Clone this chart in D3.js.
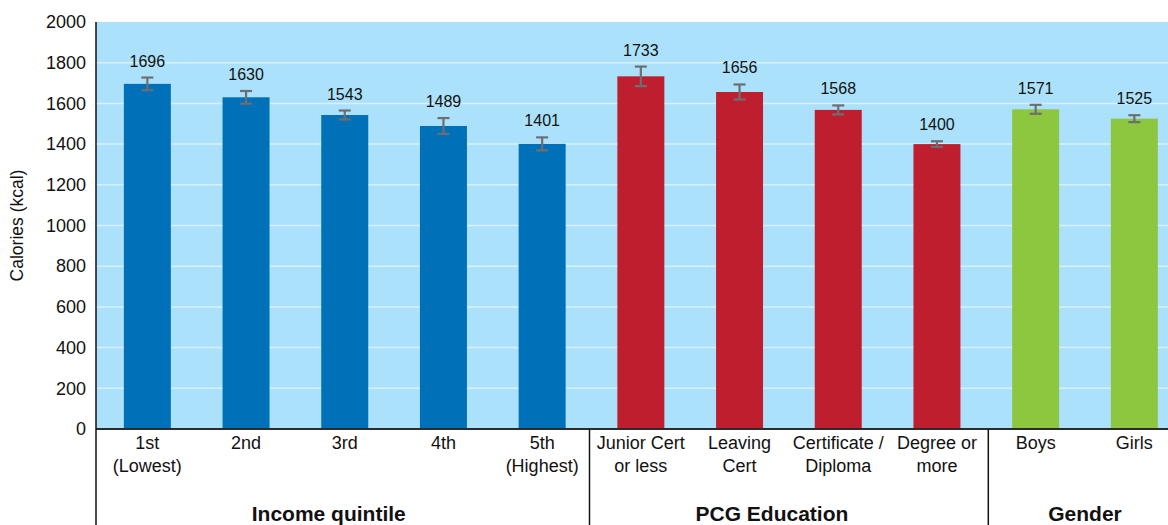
<!DOCTYPE html>
<html><head><meta charset="utf-8">
<script src="https://cdn.jsdelivr.net/npm/d3@7"></script>
<style>body{margin:0;background:#fff}svg{display:block}text{font-family:"Liberation Sans",Arial,sans-serif}</style>
</head><body>
<svg id="c" width="1168" height="525"></svg>
<script>
const categories = ["1st\n(Lowest)","2nd","3rd","4th","5th\n(Highest)","Junior Cert\nor less","Leaving\nCert","Certificate /\nDiploma","Degree or\nmore","Boys","Girls"];
const values = [1696,1630,1543,1489,1401,1733,1656,1568,1400,1571,1525];
const errors = [31,31,22,39,32,48,37,22,14,22,17];
const groupOf = ["Income quintile","Income quintile","Income quintile","Income quintile","Income quintile","PCG Education","PCG Education","PCG Education","PCG Education","Gender","Gender"];
const groups = ["Income quintile","PCG Education","Gender"];
const groupColors = ["#0070b9","#be1e2d","#8dc63f"];
const yTicks = [0,200,400,600,800,1000,1200,1400,1600,1800,2000];

(function(){
const svg = d3.select("#c");
const mLeft = 96, mTop = 22, mBottom = 429, mRight = 1168;
const x = d3.scaleBand().domain(d3.range(categories.length)).range([mLeft + 2, mLeft + 2 + 11*98.7]).paddingInner(0.524).paddingOuter(0.262);
const y = d3.scaleLinear().domain([0,2000]).range([mBottom, mTop]);
const color = d3.scaleOrdinal().domain(groups).range(groupColors);

svg.append("rect").attr("x",mLeft).attr("y",mTop).attr("width",mRight-mLeft).attr("height",mBottom-mTop).attr("fill","#abe1fa");
svg.append("g").selectAll("line").data(yTicks.filter(d=>d>0&&d<2000)).join("line")
  .attr("x1",mLeft).attr("x2",mRight).attr("y1",d=>y(d)).attr("y2",d=>y(d))
  .attr("stroke","#d6f0fc").attr("stroke-width",1.5);

// y axis
const yAxis = d3.axisLeft(y).tickValues(yTicks).tickFormat(d3.format("d")).tickSize(0).tickPadding(10);
const ga = svg.append("g").attr("transform",`translate(${mLeft},0)`).call(yAxis);
ga.select(".domain").remove();
ga.selectAll("text").attr("font-size",18).attr("fill","#111").attr("font-family","Liberation Sans, Arial, sans-serif");

svg.append("text").attr("transform",`translate(23,${(mTop+mBottom)/2}) rotate(-90)`)
  .attr("text-anchor","middle").attr("font-size",17.5).attr("fill","#111").text("Calories (kcal)");

// bars
svg.append("g").selectAll("rect").data(values).join("rect")
  .attr("x",(d,i)=>x(i)).attr("width",x.bandwidth())
  .attr("y",d=>y(d)).attr("height",d=>mBottom-y(d))
  .attr("fill",(d,i)=>color(groupOf[i]));

// error bars
const eb = svg.append("g").attr("stroke","#6d6e71").attr("stroke-width",2.2);
values.forEach((v,i)=>{
  const cx = x(i)+x.bandwidth()/2;
  eb.append("line").attr("x1",cx).attr("x2",cx).attr("y1",y(v+errors[i])).attr("y2",y(v-errors[i]));
  eb.append("line").attr("x1",cx-6).attr("x2",cx+6).attr("y1",y(v+errors[i])).attr("y2",y(v+errors[i]));
  eb.append("line").attr("x1",cx-6).attr("x2",cx+6).attr("y1",y(v-errors[i])).attr("y2",y(v-errors[i]));
});

// value labels
svg.append("g").selectAll("text").data(values).join("text")
  .attr("x",(d,i)=>x(i)+x.bandwidth()/2).attr("y",(d,i)=>y(d+errors[i])-11)
  .attr("text-anchor","middle").attr("font-size",16).attr("fill","#111").text(d=>d);

// bottom axis line
svg.append("line").attr("x1",mLeft).attr("x2",mRight).attr("y1",mBottom).attr("y2",mBottom).attr("stroke","#2b2b2b").attr("stroke-width",2);
// left axis line
svg.append("line").attr("x1",mLeft).attr("x2",mLeft).attr("y1",mTop).attr("y2",525).attr("stroke","#111").attr("stroke-width",1.5);

// category labels
const cl = svg.append("g");
categories.forEach((c,i)=>{
  const t = cl.append("text").attr("x",x(i)+x.bandwidth()/2).attr("y",449).attr("text-anchor","middle").attr("font-size",18).attr("fill","#111");
  c.split("\n").forEach((s,j)=>t.append("tspan").attr("x",x(i)+x.bandwidth()/2).attr("dy",j?23:0).text(s));
});

// group separators and labels
const groupNudge = [-16,-17,0];
const sepNudge = [0,-2,2];
groups.forEach((g,gi)=>{
  const idx = d3.range(categories.length).filter(i=>groupOf[i]===g);
  const first = idx[0], last = idx[idx.length-1];
  const start = x(first) - x.step()*x.paddingInner()/2 + sepNudge[gi];
  if (gi>0) svg.append("line").attr("x1",start).attr("x2",start).attr("y1",mBottom).attr("y2",525).attr("stroke","#111").attr("stroke-width",1.5);
  const cx = (x(first)+x(last)+x.bandwidth())/2 + groupNudge[gi];
  svg.append("text").attr("x",cx).attr("y",521).attr("text-anchor","middle").attr("font-size",21).attr("font-weight","bold").attr("fill","#111").text(g);
});
})();
</script>
</body></html>
